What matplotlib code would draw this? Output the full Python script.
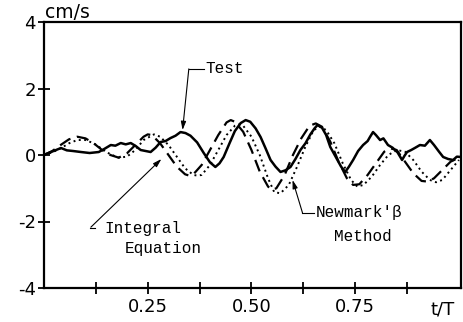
import matplotlib
matplotlib.use("Agg")
import matplotlib.pyplot as plt

# ---- data ----
t_test = [0.0, 0.005, 0.015, 0.029, 0.041, 0.055, 0.07, 0.089, 0.11, 0.132, 0.145, 0.161, 0.172, 0.185,
          0.197, 0.209, 0.221, 0.233, 0.245, 0.257, 0.269, 0.281, 0.293, 0.305, 0.317, 0.329,
          0.341, 0.353, 0.369, 0.385, 0.40, 0.413, 0.423, 0.433, 0.447, 0.46, 0.474, 0.486,
          0.497, 0.51, 0.522, 0.534, 0.546, 0.558, 0.570, 0.582, 0.594, 0.606, 0.618, 0.63,
          0.642, 0.652, 0.659, 0.67, 0.68, 0.69, 0.705, 0.716, 0.726, 0.735, 0.745, 0.757,
          0.769, 0.78, 0.786, 0.793, 0.80, 0.81, 0.818, 0.829, 0.84, 0.852, 0.863, 0.869,
          0.875, 0.885, 0.895, 0.906, 0.918, 0.93, 0.94, 0.952, 0.962, 0.974, 0.986, 0.995, 1.005]
v_test = [0.0, 0.03, 0.08, 0.15, 0.21, 0.14, 0.12, 0.09, 0.06, 0.09, 0.18, 0.30, 0.28, 0.36,
          0.32, 0.36, 0.27, 0.15, 0.12, 0.09, 0.22, 0.39, 0.42, 0.51, 0.58, 0.69,
          0.66, 0.58, 0.38, 0.06, -0.22, -0.36, -0.25, -0.06, 0.35, 0.72, 0.96, 1.05,
          1.0, 0.8, 0.54, 0.2, -0.15, -0.35, -0.51, -0.46, -0.36, -0.12, 0.15, 0.35,
          0.62, 0.8, 0.9, 0.82, 0.6, 0.24, -0.1, -0.35, -0.51, -0.35, -0.15, 0.12,
          0.3, 0.42, 0.55, 0.69, 0.6, 0.45, 0.5, 0.3, 0.22, 0.08, -0.15, -0.02,
          0.09, 0.15, 0.22, 0.3, 0.28, 0.45, 0.3, 0.1, -0.06, -0.12, -0.15, -0.05, -0.06]

t_ie = [0.0, 0.02, 0.04, 0.06, 0.08, 0.10, 0.12, 0.14, 0.16, 0.18, 0.20, 0.22, 0.24, 0.25, 0.26,
        0.28, 0.30, 0.32, 0.34, 0.35, 0.36, 0.38, 0.40, 0.42, 0.44, 0.45, 0.46, 0.48, 0.50, 0.52,
        0.54, 0.55, 0.56, 0.58, 0.60, 0.62, 0.64, 0.655, 0.67, 0.69, 0.71, 0.73, 0.745, 0.76,
        0.78, 0.80, 0.82, 0.835, 0.85, 0.87, 0.89, 0.91, 0.925, 0.94, 0.96, 0.98, 1.0]
v_ie = [0.0, 0.12, 0.3, 0.47, 0.55, 0.5, 0.35, 0.15, 0.0, -0.08, 0.05, 0.3, 0.55, 0.62, 0.6,
        0.35, 0.0, -0.35, -0.58, -0.62, -0.58, -0.3, 0.15, 0.6, 0.98, 1.05, 1.0, 0.7, 0.15, -0.5,
        -0.95, -1.05, -1.0, -0.6, 0.0, 0.5, 0.88, 0.95, 0.85, 0.4, -0.2, -0.7, -0.9, -0.88,
        -0.6, -0.25, 0.1, 0.2, 0.15, -0.2, -0.55, -0.78, -0.8, -0.7, -0.45, -0.2, -0.08]

t_nm = [0.0, 0.02, 0.04, 0.06, 0.08, 0.10, 0.12, 0.14, 0.16, 0.18, 0.20, 0.22, 0.24, 0.265, 0.28,
        0.30, 0.32, 0.34, 0.36, 0.37, 0.38, 0.40, 0.42, 0.44, 0.46, 0.47, 0.48, 0.50, 0.52, 0.54,
        0.555, 0.57, 0.59, 0.61, 0.63, 0.65, 0.665, 0.68, 0.70, 0.72, 0.74, 0.755, 0.77, 0.79,
        0.81, 0.83, 0.85, 0.87, 0.89, 0.91, 0.93, 0.945, 0.96, 0.98, 1.0]
v_nm = [0.0, 0.08, 0.2, 0.35, 0.45, 0.45, 0.35, 0.18, 0.02, -0.08, -0.05, 0.15, 0.45, 0.62, 0.55,
        0.3, -0.05, -0.4, -0.6, -0.62, -0.6, -0.3, 0.15, 0.6, 0.88, 0.92, 0.88, 0.55, 0.0, -0.7,
        -1.12, -1.15, -0.9, -0.35, 0.25, 0.75, 0.85, 0.75, 0.35, -0.25, -0.75, -0.95, -0.9, -0.65,
        -0.3, 0.0, 0.15, 0.1, -0.15, -0.5, -0.75, -0.82, -0.75, -0.45, -0.15]

x_ticks = [0.125, 0.25, 0.375, 0.5, 0.625, 0.75, 0.875]
x_labels = ["", "0.25", "", "0.50", "", "0.75", ""]
y_ticks = [-4, -2, 0, 2, 4]
y_labels = ["-4", "-2", "0", "2", "4"]

# ---- figure ----
fig = plt.figure(figsize=(4.64, 3.22), dpi=100)
ax = fig.add_axes([44/464, 34/322, 417/464, 266/322])

ax.plot(t_test, v_test, color="black", lw=1.8, solid_joinstyle="round")
ax.plot(t_ie, v_ie, color="black", lw=1.6, linestyle=(0, (5.5, 3)))
ax.plot(t_nm, v_nm, color="black", lw=1.4, linestyle=(0, (1, 1.8)))

ax.set_xlim(0, 1.005)
ax.set_ylim(-4, 4)
ax.set_xticks(x_ticks)
ax.set_xticklabels(x_labels)
ax.set_yticks(y_ticks)
ax.set_yticklabels(y_labels)
ax.tick_params(direction="inout", length=8, width=1.3, labelsize=13)
ax.tick_params(axis="y", pad=2)
ax.tick_params(axis="x", pad=3)
for s in ax.spines.values():
    s.set_linewidth(1.6)

ax.text(0.003, 1.0, "cm/s", transform=ax.transAxes, ha="left", va="bottom", fontsize=13.5)
ax.text(0.955, -0.08, "t/T", transform=ax.transAxes, ha="center", va="center", fontsize=13)

mono = dict(family="Liberation Mono", fontsize=11.5)
arrow = dict(arrowstyle="-|>,head_length=0.5,head_width=0.15", color="black", lw=0.8,
             shrinkA=0, shrinkB=0)

# Test
ax.plot([0.385, 0.349], [2.59, 2.59], color="black", lw=0.8)
ax.annotate("", xy=(0.334, 0.75), xytext=(0.349, 2.59), arrowprops=arrow)
ax.text(0.39, 2.59, "Test", ha="left", va="center", **mono)

# Integral Equation
ax.plot([0.111, 0.124], [-2.2, -2.2], color="black", lw=0.8)
ax.annotate("", xy=(0.283, -0.12), xytext=(0.113, -2.17), arrowprops=arrow)
ax.text(0.145, -2.2, "Integral", ha="left", va="center", **mono)
ax.text(0.195, -2.8, "Equation", ha="left", va="center", **mono)

# Newmark's beta
ax.plot([0.651, 0.623], [-1.74, -1.74], color="black", lw=0.8)
ax.annotate("", xy=(0.599, -0.75), xytext=(0.623, -1.74), arrowprops=arrow)
ax.text(0.654, -1.74, "Newmark'β", ha="left", va="center", **mono)
ax.text(0.70, -2.45, "Method", ha="left", va="center", **mono)

fig.savefig("out.png", dpi=100)
